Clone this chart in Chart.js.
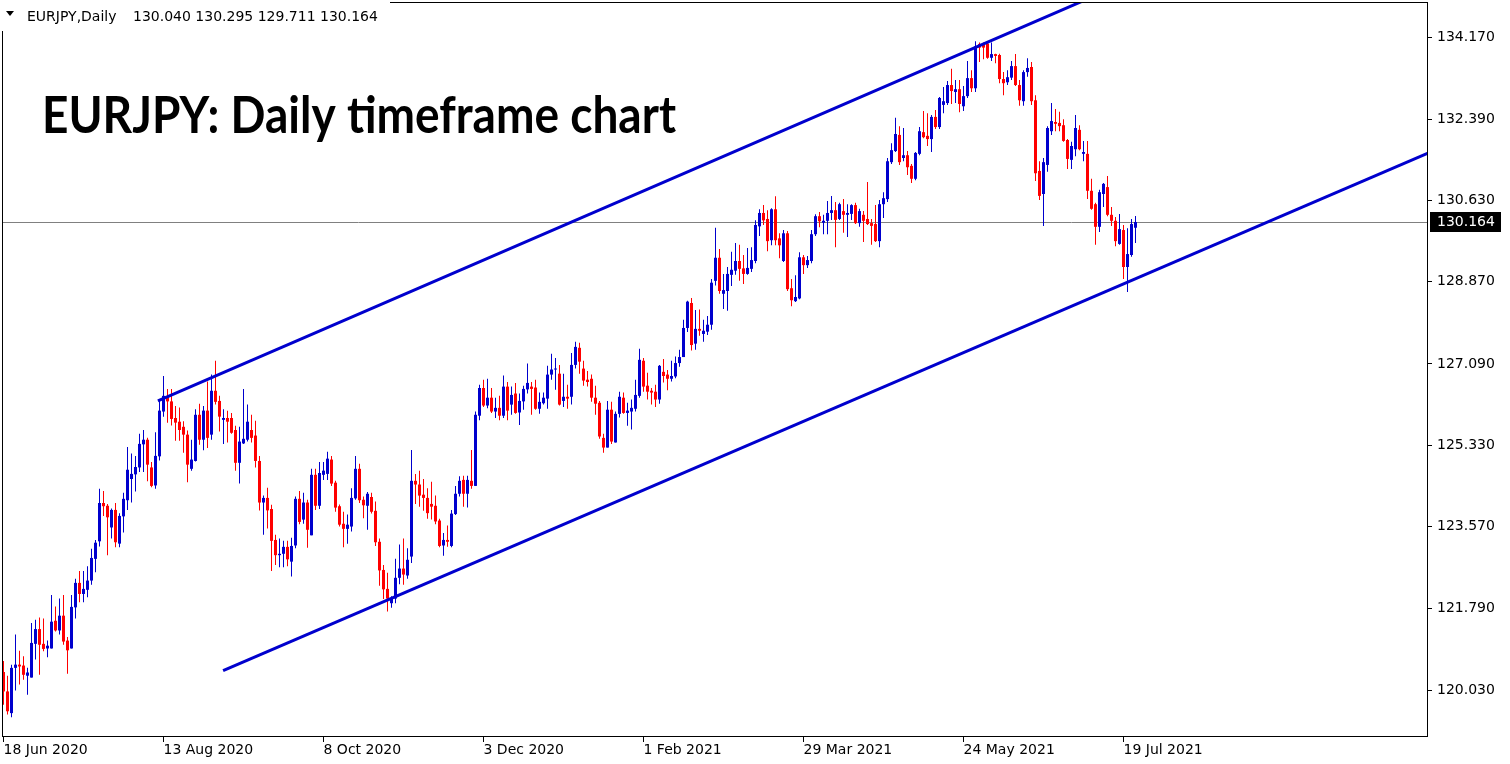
<!DOCTYPE html>
<html><head><meta charset="utf-8">
<script src="https://cdn.jsdelivr.net/npm/chart.js@4/dist/chart.umd.min.js"></script>
<style>html,body{margin:0;padding:0;background:#fff;overflow:hidden}canvas{display:block}</style>
</head><body>
<canvas id="c" width="1510" height="764"></canvas>
<script>
const symbolName = 'EURJPY,Daily';
const titleText = 'EURJPY: Daily timeframe chart';

const opens = [
120.42,120.00,119.53,120.51,120.58,120.56,120.34,120.30,121.03,121.35,
121.03,120.93,120.93,121.53,121.32,121.64,121.10,120.93,121.82,122.35,
122.11,122.20,122.40,122.87,123.25,124.08,124.02,123.55,123.93,123.20,
123.79,124.14,124.60,124.70,124.85,125.35,125.45,124.85,124.46,125.09,
126.06,126.39,126.28,125.92,125.84,125.73,125.56,124.82,124.99,125.99,
125.45,126.08,125.56,126.51,126.29,125.88,125.92,125.92,125.66,124.95,
125.37,125.45,125.66,125.54,124.99,124.09,124.19,123.95,123.28,122.95,
122.98,123.13,122.81,123.16,124.17,123.72,124.09,123.38,124.69,124.02,
124.69,124.71,125.02,124.52,124.01,123.63,123.52,123.57,124.18,124.82,
124.15,124.02,124.21,123.91,123.24,122.63,122.22,121.91,122.01,122.46,
122.66,122.51,122.92,124.56,124.48,124.26,124.19,124.06,124.02,123.70,
123.16,123.28,123.15,123.84,124.28,124.58,124.28,124.56,124.45,125.97,
126.57,126.19,126.36,126.06,126.14,125.97,126.60,126.21,126.45,126.04,
126.28,126.54,126.60,126.58,126.12,126.24,126.34,126.86,126.97,126.88,
126.29,126.38,126.38,127.07,127.44,126.99,126.75,126.77,126.36,126.25,
125.49,125.28,126.10,125.39,126.01,126.36,126.03,126.06,126.12,126.40,
127.16,126.62,126.51,126.49,126.32,126.92,126.86,126.77,126.82,127.11,
127.24,127.87,128.41,127.53,127.85,127.74,127.79,127.94,128.89,129.39,
128.61,128.67,129.02,129.11,129.32,129.16,129.04,129.15,129.32,130.07,
130.36,130.23,129.77,130.44,129.81,129.32,129.92,128.73,128.45,128.51,
129.40,129.23,129.32,129.90,130.29,130.15,130.19,130.36,130.42,130.23,
130.40,130.32,130.34,130.53,130.14,130.32,130.23,130.14,130.12,129.75,
130.55,130.66,131.46,131.70,132.05,131.55,131.61,131.38,131.10,131.64,
132.11,132.03,131.96,132.44,132.22,132.70,132.74,133.13,132.98,133.04,
132.67,132.89,133.28,133.06,134.02,134.00,134.03,133.72,133.80,133.78,
133.26,133.19,133.29,133.54,133.13,132.78,133.41,133.52,132.80,131.27,
130.77,131.40,132.13,132.33,132.31,132.26,131.94,131.51,131.74,132.16,
131.64,131.64,130.84,130.55,130.06,130.77,130.92,130.32,130.19,129.69,
129.99,129.19,129.45,130.040];

const highs = [
120.66,120.34,120.58,121.23,120.88,120.76,120.51,121.48,121.55,121.60,
121.58,121.10,122.09,121.84,122.01,122.09,121.18,122.09,122.44,122.61,
122.61,122.71,123.09,123.28,124.39,124.34,124.06,123.96,124.08,123.86,
124.30,125.29,125.15,125.10,125.58,125.66,125.49,124.97,125.61,126.29,
126.83,126.55,126.55,126.18,126.15,125.85,125.65,125.45,126.11,126.23,
126.18,126.71,126.86,127.16,126.40,126.11,126.08,126.03,125.75,125.73,
126.55,126.21,125.99,125.86,125.10,124.24,124.41,124.04,123.39,123.31,
123.26,123.26,123.33,124.22,124.34,124.30,124.15,124.82,124.82,124.97,
124.97,125.19,125.10,124.56,124.05,123.89,123.83,124.40,125.10,124.93,
124.22,124.32,124.30,124.11,123.31,122.74,122.57,122.06,122.87,123.18,
123.31,123.10,125.23,124.71,124.78,124.60,124.40,124.54,124.24,123.74,
123.43,123.59,123.93,124.45,124.66,124.67,124.67,125.23,126.06,126.64,
126.75,126.77,126.57,126.36,126.40,126.84,126.70,126.60,126.68,126.45,
126.62,127.10,126.70,126.75,126.47,126.47,127.05,127.31,127.22,127.07,
126.88,126.64,127.33,127.57,127.55,127.16,126.94,126.86,126.62,126.29,
125.58,126.29,126.27,126.06,126.49,126.47,126.25,126.32,126.75,127.42,
127.22,126.90,126.57,126.64,127.07,127.20,126.96,127.16,127.25,127.40,
128.05,128.46,128.52,128.26,128.27,128.05,128.13,128.93,130.04,129.58,
129.04,129.19,129.52,129.71,129.67,129.45,129.60,129.62,130.20,130.44,
130.53,130.42,130.46,130.72,129.92,129.99,129.97,128.93,129.01,129.51,
129.45,129.43,129.99,130.33,130.38,130.32,130.62,130.73,130.60,130.58,
130.66,130.55,130.55,130.58,130.45,130.40,131.03,130.23,130.53,130.64,
130.81,131.55,131.87,132.42,132.24,132.20,131.70,131.42,131.68,132.22,
132.57,132.52,132.48,132.59,132.87,133.09,133.22,133.48,133.24,133.24,
133.11,133.65,133.45,134.08,134.05,134.05,134.06,134.05,133.81,133.81,
133.41,133.45,133.65,133.80,133.24,133.45,133.71,133.63,132.91,131.48,
131.55,132.24,132.74,132.61,132.55,132.39,131.96,131.90,132.48,132.26,
131.92,131.92,131.10,130.58,130.86,131.01,131.16,130.49,130.27,130.34,
130.10,130.03,130.23,130.295];

const lows = [
119.71,119.50,119.44,120.02,120.15,120.25,119.93,120.30,120.69,120.36,
120.87,120.74,120.93,121.30,121.23,121.01,120.38,120.93,121.58,121.93,
121.93,122.04,122.31,122.58,123.14,123.80,122.95,123.31,123.12,123.12,
123.44,123.93,124.09,124.33,124.75,124.75,124.55,124.42,124.39,125.00,
125.95,125.82,125.76,125.43,125.43,125.17,124.53,124.78,124.98,125.34,
125.22,125.27,125.45,126.21,125.63,125.36,125.39,125.58,124.78,124.50,
125.36,125.41,125.39,124.85,123.92,123.39,123.53,122.61,122.74,122.69,
122.69,122.71,122.49,123.10,123.62,123.63,123.11,123.38,123.93,123.95,
124.58,124.58,124.45,123.89,123.57,123.12,123.20,123.46,124.15,124.08,
123.75,123.50,123.85,123.15,122.29,122.00,121.73,121.81,121.91,122.32,
122.31,122.44,122.78,124.06,124.00,123.91,123.74,123.72,123.62,123.12,
122.94,123.13,123.12,123.82,124.22,124.00,123.98,124.39,124.45,125.87,
126.16,126.13,126.03,125.92,125.87,125.92,125.87,125.99,126.01,125.77,
126.10,126.45,125.99,126.10,126.01,126.21,126.12,126.75,126.53,126.19,
126.16,126.12,126.21,126.99,126.88,126.62,126.60,126.27,125.99,125.47,
125.17,125.28,125.36,125.39,125.93,126.01,125.75,125.67,126.06,126.36,
126.49,126.32,126.21,126.16,126.23,126.69,126.52,126.71,126.78,127.03,
127.24,127.78,127.38,127.40,127.70,127.57,127.72,127.83,128.79,128.61,
128.28,128.24,128.78,129.02,128.89,128.82,129.02,129.08,129.27,129.86,
130.10,129.53,129.66,129.66,129.38,129.30,128.67,128.34,128.43,128.49,
129.04,129.17,129.27,129.86,130.05,129.90,129.90,130.21,129.62,130.21,
129.93,129.84,130.21,130.12,130.06,129.73,130.10,129.67,129.73,129.62,
130.25,130.60,131.42,131.68,131.40,131.48,131.18,131.01,131.07,131.61,
131.98,131.81,131.68,132.18,132.18,132.52,132.70,132.72,132.74,132.54,
132.57,132.85,132.98,132.98,133.63,133.69,133.70,133.65,133.60,133.17,
132.91,133.13,133.24,133.11,132.68,132.68,133.31,132.70,131.05,130.64,
130.08,131.25,132.05,132.13,132.13,131.90,131.31,131.31,131.59,131.72,
131.48,130.66,130.43,129.67,129.95,130.49,130.29,130.08,129.64,129.67,
128.93,128.65,129.41,129.711];

const closes = [
120.00,119.57,120.51,120.58,120.54,120.36,120.41,121.05,121.35,121.01,
120.92,120.99,121.51,121.32,121.64,121.08,120.89,121.83,122.35,122.11,
122.22,122.40,122.89,123.22,124.08,124.01,123.77,123.93,123.23,123.80,
124.17,124.80,124.71,124.86,125.36,125.45,124.91,124.45,125.10,126.08,
126.40,126.28,125.90,125.82,125.66,125.56,124.91,125.02,125.99,125.45,
126.08,125.49,126.51,126.27,125.95,125.92,125.84,125.60,124.95,125.41,
125.47,125.84,125.49,124.99,124.09,124.19,123.92,123.26,122.95,122.98,
123.13,122.86,123.15,124.17,123.67,124.09,123.50,124.69,124.02,124.73,
124.78,125.04,124.50,123.98,123.61,123.52,123.61,124.19,124.82,124.14,
124.03,124.28,123.89,123.23,122.62,122.21,122.01,122.01,122.46,122.66,
122.53,122.85,124.56,124.48,124.24,124.19,123.86,124.00,123.68,123.15,
123.28,123.24,123.85,124.28,124.56,124.28,124.58,124.45,125.99,126.57,
126.19,126.36,126.06,126.14,125.97,126.60,126.08,126.42,126.03,126.29,
126.55,126.68,126.55,126.12,126.27,126.36,126.86,126.97,126.99,126.21,
126.38,126.34,127.07,127.46,127.14,126.73,126.70,126.36,126.23,125.52,
125.28,126.10,125.41,126.01,126.38,126.03,126.08,126.14,126.42,127.18,
126.60,126.49,126.47,126.32,127.05,126.83,126.77,126.83,127.11,127.24,
127.87,128.44,127.50,127.85,127.81,127.81,127.94,128.85,129.39,128.67,
128.69,129.04,129.13,129.32,129.15,129.04,129.17,129.34,130.10,130.36,
130.20,129.75,130.44,129.77,129.66,129.92,128.71,128.47,128.54,129.40,
129.23,129.34,129.90,130.29,130.18,130.19,130.36,130.42,130.21,130.55,
130.32,130.36,130.53,130.14,130.40,130.19,130.12,130.08,129.75,130.55,
130.68,131.48,131.72,132.07,131.46,131.61,131.35,131.10,131.66,132.13,
132.00,131.96,132.44,132.22,132.85,132.78,133.13,133.00,133.04,132.72,
132.89,133.28,133.06,133.97,133.94,133.94,133.72,133.80,133.76,133.26,
133.17,133.30,133.54,133.13,132.80,133.41,133.50,132.78,131.22,130.73,
131.46,132.20,132.35,132.29,132.24,131.92,131.53,131.81,132.20,131.74,
131.68,130.84,130.45,130.06,130.81,130.99,130.32,130.19,129.75,130.01,
129.19,129.47,130.12,130.164];

const xTickIndex = [0, 40, 80, 120, 160, 200, 240, 280];
const xTickLabels = ['18 Jun 2020','13 Aug 2020','8 Oct 2020','3 Dec 2020','1 Feb 2021','29 Mar 2021','24 May 2021','19 Jul 2021'];
const yTickValues = [134.170, 132.390, 130.630, 128.870, 127.090, 125.330, 123.570, 121.790, 120.030];

// channel trendlines: [bar index, price]
const upperChannel = [{x: 38.6, y: 126.29}, {x: 300, y: 136.08}];
const lowerChannel = [{x: 54.9, y: 120.45}, {x: 360, y: 131.80}];

const BLUE = '#0000cd';
const RED = '#ff0000';
const n = closes.length;
const lastBar = [opens[n-1], highs[n-1], lows[n-1], closes[n-1]];
const lastClose = closes[n-1];
const candleColors = closes.map((c, i) => c >= opens[i] ? BLUE : RED);
const wickData = closes.map((c, i) => ({x: i, y: [lows[i], highs[i]]}));
const bodyData = closes.map((c, i) => ({x: i, y: [opens[i], c]}));

const FONT = {family: '"DejaVu Sans"', size: 14};

const overlay = {
  id: 'overlay',
  beforeDatasetsDraw(chart) {
    const {ctx, chartArea: a, scales: {y}} = chart;
    const py = Math.round(y.getPixelForValue(lastClose)) + 0.5;
    ctx.save();
    ctx.strokeStyle = '#808080'; ctx.lineWidth = 1;
    ctx.beginPath(); ctx.moveTo(a.left, py); ctx.lineTo(a.right, py); ctx.stroke();
    ctx.restore();
  },
  afterDraw(chart) {
    const {ctx, chartArea: a, scales: {y}} = chart;
    ctx.save();
    ctx.strokeStyle = '#000'; ctx.lineWidth = 1;
    ctx.strokeRect(a.left + 0.5, a.top + 0.5, a.right - a.left - 1, a.bottom - a.top - 1);
    // header panel
    ctx.fillStyle = '#fff';
    ctx.fillRect(0, 0, 390, 31);
    ctx.fillStyle = '#000';
    ctx.beginPath(); ctx.moveTo(6, 11); ctx.lineTo(14, 11); ctx.lineTo(10, 16); ctx.closePath(); ctx.fill();
    ctx.font = '14px "DejaVu Sans"';
    ctx.textBaseline = 'alphabetic';
    ctx.textAlign = 'left';
    ctx.fillText(symbolName, 27, 21);
    ctx.fillText(lastBar.map(v => v.toFixed(3)).join(' '), 133, 21);
    // title
    ctx.font = 'bold 52px Lato';
    ctx.fillText(titleText, 42, 133, 634);
    // current price label
    const py = Math.round(y.getPixelForValue(lastClose));
    ctx.fillStyle = '#000';
    ctx.fillRect(a.right + 2, py - 10, 71, 20);
    ctx.fillStyle = '#fff';
    ctx.font = '14px "DejaVu Sans"';
    ctx.textBaseline = 'middle';
    ctx.fillText(lastClose.toFixed(3), a.right + 9, py + 0.5);
    ctx.restore();
  }
};

new Chart(document.getElementById('c'), {
  type: 'bar',
  data: {
    datasets: [
      {type: 'line', data: upperChannel, borderColor: BLUE, borderWidth: 3, pointRadius: 0, fill: false, tension: 0, order: 0},
      {type: 'line', data: lowerChannel, borderColor: BLUE, borderWidth: 3, pointRadius: 0, fill: false, tension: 0, order: 0},
      {type: 'bar', data: bodyData, backgroundColor: candleColors, barThickness: 3, grouped: false, borderWidth: 0, borderSkipped: false, inflateAmount: 0, minBarLength: 1, order: 1},
      {type: 'bar', data: wickData, backgroundColor: candleColors, barThickness: 1, grouped: false, borderWidth: 0, borderSkipped: false, inflateAmount: 0, order: 2}
    ]
  },
  options: {
    responsive: false,
    devicePixelRatio: 1,
    animation: false,
    events: [],
    layout: {padding: {left: 2, top: 2, right: 0, bottom: 0}},
    plugins: {legend: {display: false}, tooltip: {enabled: false}, title: {display: false}},
    scales: {
      x: {
        type: 'linear', min: -0.375, max: 356.125, bounds: 'data', offset: false,
        grid: {drawOnChartArea: false, drawTicks: true, tickLength: 5, color: '#000', offset: false},
        border: {display: false},
        ticks: {autoSkip: false, maxRotation: 0, minRotation: 0, align: 'start', padding: 0, color: '#000', font: FONT,
          callback: (v, i) => xTickLabels[i]},
        afterBuildTicks: s => { s.ticks = xTickIndex.map(v => ({value: v})); },
        afterFit: s => { s.height = 27; s.paddingLeft = 0; s.paddingRight = 0; }
      },
      y: {
        type: 'linear', position: 'right', min: 119.013, max: 134.928, bounds: 'data',
        grid: {drawOnChartArea: false, drawTicks: true, tickLength: 4, color: '#000'},
        border: {display: false},
        ticks: {autoSkip: false, padding: 5, color: '#000', font: FONT, callback: v => Number(v).toFixed(3)},
        afterBuildTicks: s => { s.ticks = yTickValues.map(v => ({value: v})); },
        afterFit: s => { s.width = 82; s.paddingTop = 0; s.paddingBottom = 0; }
      }
    }
  },
  plugins: [overlay]
});
</script>
</body></html>
